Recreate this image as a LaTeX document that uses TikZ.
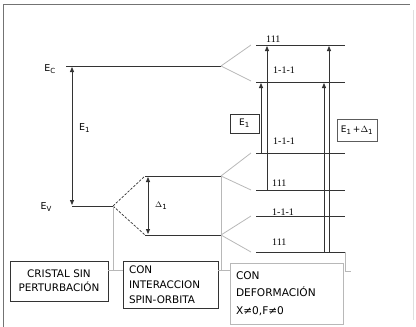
\documentclass[tikz,border=0pt]{standalone}
\usepackage{fontspec}
\setmainfont{DejaVu Sans}
\newfontfamily\numfont{Liberation Serif}
\usetikzlibrary{arrows.meta}
\definecolor{linec}{gray}{0.2}
\definecolor{forkc}{gray}{0.72}
\definecolor{framec}{gray}{0.45}
\begin{document}
\begin{tikzpicture}[x=1pt,y=-1pt,
  level/.style={draw=linec, line width=0.9pt},
  forkline/.style={draw=forkc, line width=0.8pt},
  dfork/.style={draw=linec, line width=0.7pt, dash pattern=on 2.5pt off 1.5pt},
  conn/.style={draw=forkc, line width=0.8pt},
  uparr/.style={draw=linec, line width=0.8pt, -{Triangle[length=5pt,width=4pt]}},
  dblarr/.style={draw=linec, line width=0.8pt, {Triangle[length=5pt,width=4pt]}-{Triangle[length=5pt,width=4pt]}},
  lvl/.style={font=\numfont\fontsize{10}{11}\selectfont, inner sep=0pt, anchor=west},
  elab/.style={font=\fontsize{9.5}{11}\selectfont, inner sep=0pt},
  ebox/.style={draw=linec, line width=0.6pt, font=\fontsize{9}{10}\selectfont, inner sep=0pt},
  tbox/.style={line width=0.8pt, inner ysep=0pt, inner xsep=6pt}
]
\useasboundingbox (0,0) rectangle (416,327);
% frame
\draw[framec, line width=0.9pt] (3,327) -- (3,4) -- (410,4);
\draw[gray!25, line width=0.6pt] (413,10) -- (413,320);

% unperturbed levels
\coordinate (ecL) at (66,66);
\coordinate (ecR) at (221,66);
\coordinate (evL) at (72,206);
\coordinate (evR) at (113,206);
\draw[level] (ecL) -- (ecR);
\draw[level] (evL) -- (evR);
\node[elab, anchor=east] (ec) at (56,69) {E\textsubscript{\scriptsize C}};
\node[elab, anchor=east] (ev) at (52,207) {E\textsubscript{\scriptsize V}};
\draw[dblarr] (72,67) -- (72,205);
\node[elab, anchor=west] (e1lab) at (79,128) {E\textsubscript{\scriptsize 1}};

% spin-orbit split
\coordinate (soT) at (145,176);
\coordinate (soB) at (145,235);
\coordinate (soTR) at (221,176);
\coordinate (soBR) at (221,235);
\draw[dfork] (evR) -- (soT);
\draw[dfork] (evR) -- (soB);
\draw[level] (soT) -- (soTR);
\draw[level] (soB) -- (soBR);
\draw[dblarr] (148,177) -- (148,234);
\node[elab, anchor=west, font=\fontsize{8}{9}\selectfont] (dlab) at (155,206) {$\Delta$\textsubscript{\scriptsize 1}};

% deformation split
\coordinate (c1) at (256,45);   \coordinate (c1r) at (345,45);
\coordinate (c2) at (256,82);   \coordinate (c2r) at (345,82);
\coordinate (v1) at (256,153);  \coordinate (v1r) at (345,153);
\coordinate (v2) at (256,190);  \coordinate (v2r) at (345,190);
\coordinate (v3) at (256,216);  \coordinate (v3r) at (345,216);
\coordinate (v4) at (256,252);  \coordinate (v4r) at (345,252);
\foreach \a/\b in {c1/c1r,c2/c2r,v1/v1r,v2/v2r,v3/v3r,v4/v4r}{\draw[level] (\a) -- (\b);}
\draw[forkline] (ecR) -- (251,45);
\draw[forkline] (ecR) -- (251,81);
\draw[forkline] (soTR) -- (251,153);
\draw[forkline] (soTR) -- (251,190);
\draw[forkline] (soBR) -- (251,216);
\draw[forkline] (soBR) -- (251,252);

\node[lvl] (l1) at (266,39) {111};
\node[lvl] (l2) at (273,70) {1-1-1};
\node[lvl] (l3) at (273,141) {1-1-1};
\node[lvl] (l4) at (272,183) {111};
\node[lvl] (l5) at (272,212) {1-1-1};
\node[lvl] (l6) at (272,242) {111};

% transitions
\draw[uparr] (261,153) -- (261,83);
\draw[uparr] (267,190) -- (267,46);
\draw[uparr] (324,252) -- (324,83);
\draw[uparr] (329,252) -- (329,46);
\node[ebox, minimum width=29pt, minimum height=19pt] (be1) at (244.5,123.5) {E\textsubscript{\scriptsize 1}};
\node[ebox, minimum width=40pt, minimum height=22pt, draw=linec!80] (be2) at (357,130.5) {E\textsubscript{\scriptsize 1}\,+$\Delta$\textsubscript{\scriptsize 1}};

% bottom boxes
\node[tbox, draw=linec, minimum width=98pt, minimum height=40pt, text width=86pt, align=center,
      font=\fontsize{10.4}{14}\selectfont] (cristal) at (59,281) {CRISTAL SIN\\PERTURBACIÓN};
\node[tbox, draw=linec, minimum width=95pt, minimum height=47pt, text width=83pt, align=left,
      font=\fontsize{10.4}{15}\selectfont] (spin) at (170.5,285) {CON\\INTERACCION\\SPIN-ORBITA};
\node[tbox, draw=forkc, minimum width=113pt, minimum height=61pt, text width=101pt, align=left,
      font=\fontsize{10.6}{17.5}\selectfont] (deform) at (286.5,293.5) {CON\\DEFORMACIÓN\\X≠0,F≠0};

% connectors to boxes
\coordinate (t1) at (113,270);
\coordinate (t2) at (221,270);
\coordinate (t3) at (345,271);
\draw[conn] (evR) -- (t1);
\draw[conn] (cristal.east |- t1) -- (spin.west |- t1);
\draw[conn] (soTR) -- (t2);
\draw[conn] (spin.east |- t2) -- (deform.west |- t2);
\draw[conn] (v4r) -- (t3) -- ++(6,0);
\end{tikzpicture}
\end{document}
